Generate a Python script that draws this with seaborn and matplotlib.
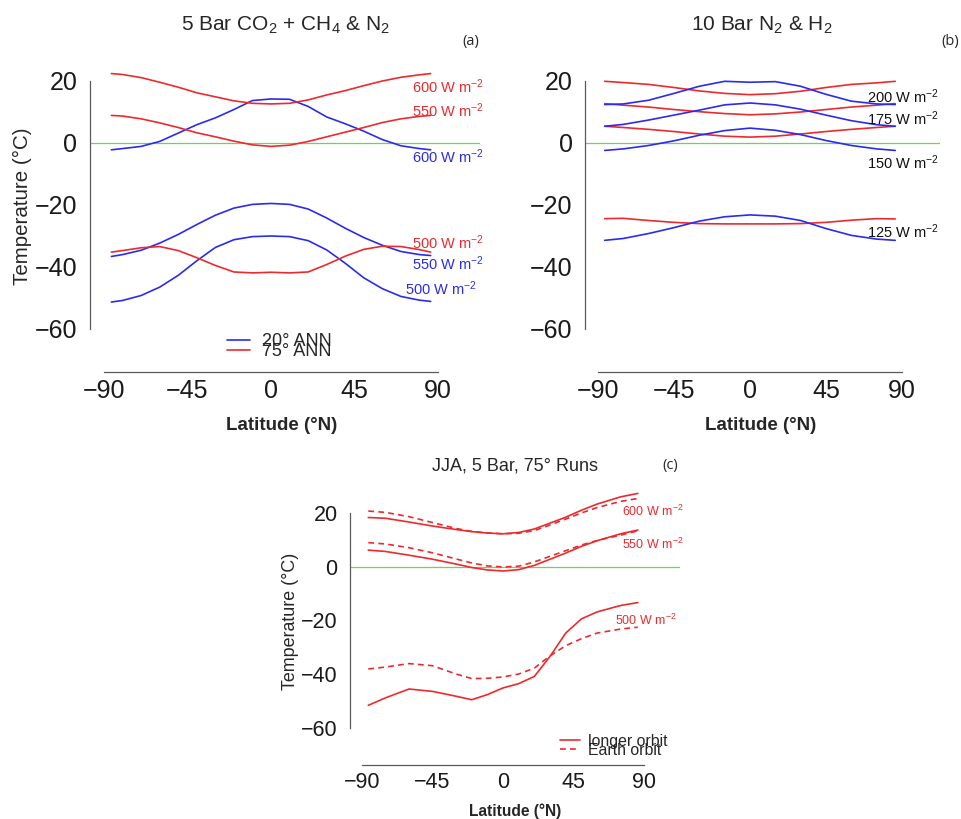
import matplotlib
matplotlib.use("Agg")
import matplotlib.pyplot as plt
import seaborn as sns
import pandas as pd

# latitudes (deg N) the curves were read at
lat_a = [-86, -80, -70, -60, -50, -40, -30, -20, -10, 0, 10, 20, 30, 40, 50, 60, 70, 80, 86]
lat_b = [-86, -75, -60, -45, -30, -15, 0, 15, 30, 45, 60, 75, 86]
lat_c = [-86, -75, -60, -45, -30, -20, -10, 0, 10, 20, 30, 40, 50, 60, 75, 86]

# (a) 5 bar CO2 + CH4 & N2, annual mean temperature (C)
a_20_600 = [-2.2, -1.8, -1.1, 0.5, 3.2, 5.9, 8.1, 10.8, 13.7, 14.2, 14.1, 11.8, 8.4, 6.2, 3.8, 1.1, -0.9, -1.8, -2.2]
a_20_550 = [-36.6, -36.0, -34.6, -32.3, -29.5, -26.3, -23.3, -21.0, -19.8, -19.5, -19.8, -21.3, -24.2, -27.5, -30.5, -33.0, -35.0, -36.0, -36.3]
a_20_500 = [-51.3, -50.8, -49.2, -46.5, -42.7, -38.0, -33.7, -31.2, -30.2, -30.0, -30.2, -31.5, -34.5, -38.8, -43.5, -47.0, -49.5, -50.7, -51.1]
a_75_600 = [22.4, 22.1, 21.1, 19.6, 18.0, 16.2, 14.9, 13.6, 12.8, 12.6, 12.8, 13.9, 15.5, 16.9, 18.5, 20.0, 21.2, 22.0, 22.4]
a_75_550 = [8.9, 8.7, 7.8, 6.5, 5.0, 3.3, 2.0, 0.6, -0.6, -1.1, -0.7, 0.5, 2.0, 3.5, 5.0, 6.6, 7.8, 8.6, 8.9]
a_75_500 = [-35.2, -34.7, -33.8, -33.4, -34.7, -37.0, -39.5, -41.6, -41.9, -41.7, -41.9, -41.6, -39.2, -36.5, -34.3, -33.3, -33.4, -34.4, -35.2]

# (b) 10 bar N2 & H2
b_20_200 = [12.4, 12.6, 13.8, 16.0, 18.3, 19.9, 19.6, 19.8, 18.3, 15.7, 13.5, 12.6, 12.4]
b_20_175 = [5.4, 6.0, 7.4, 9.0, 10.6, 12.3, 12.9, 12.3, 10.9, 9.0, 7.2, 5.9, 5.4]
b_20_150 = [-2.4, -1.9, -0.8, 0.7, 2.5, 4.0, 4.8, 4.1, 2.7, 0.8, -0.8, -1.9, -2.4]
b_20_125 = [-31.4, -30.8, -29.2, -27.3, -25.2, -23.8, -23.2, -23.6, -25.0, -27.6, -29.8, -31.0, -31.4]
b_75_200 = [19.9, 19.5, 18.9, 17.9, 16.8, 16.0, 15.6, 15.9, 16.7, 17.9, 18.9, 19.4, 19.9]
b_75_175 = [12.7, 12.2, 11.6, 10.8, 10.1, 9.5, 9.1, 9.4, 10.0, 10.8, 11.6, 12.2, 12.7]
b_75_150 = [5.4, 5.0, 4.4, 3.7, 2.9, 2.2, 1.9, 2.2, 2.9, 3.7, 4.4, 5.0, 5.4]
b_75_125 = [-24.4, -24.3, -25.0, -25.6, -26.0, -26.1, -26.1, -26.1, -26.0, -25.6, -24.9, -24.4, -24.5]

# (c) JJA, 5 bar, 75 deg obliquity
c_long_600 = [18.5, 18.2, 16.8, 15.3, 14.0, 13.2, 12.7, 12.4, 12.9, 14.2, 16.4, 18.6, 21.2, 23.5, 26.2, 27.5]
c_earth_600 = [20.9, 20.4, 18.8, 16.6, 14.4, 13.3, 12.7, 12.4, 12.6, 13.6, 15.7, 17.9, 20.2, 22.2, 24.5, 25.6]
c_long_550 = [6.3, 5.8, 4.4, 2.9, 1.1, -0.2, -1.1, -1.5, -1.0, 0.6, 2.9, 5.2, 7.7, 9.8, 12.4, 13.8]
c_earth_550 = [9.1, 8.6, 7.2, 5.3, 3.0, 1.5, 0.4, 0.0, 0.3, 1.9, 4.0, 6.1, 8.2, 9.9, 11.9, 13.5]
c_long_500 = [-51.7, -48.9, -45.6, -46.5, -48.3, -49.6, -47.7, -45.2, -43.6, -40.9, -33.4, -24.7, -19.4, -16.8, -14.4, -13.3]
c_earth_500 = [-38.1, -37.4, -36.1, -36.9, -40.0, -41.7, -41.6, -41.1, -40.0, -37.8, -33.2, -29.4, -26.8, -24.7, -23.2, -22.5]

xticks = [-90, -45, 0, 45, 90]
yticks = [-60, -40, -20, 0, 20]

RED = "#ec2a2e"
BLUE = "#2b2bee"
GREEN = "#6cd650"
AX_GREY = "#5a5a5a"

sns.set_style("white")
plt.rcParams["font.family"] = ["Liberation Sans", "DejaVu Sans"]
plt.rcParams["mathtext.fontset"] = "custom"
plt.rcParams["mathtext.rm"] = "Liberation Sans"
plt.rcParams["mathtext.it"] = "Liberation Sans:italic"
plt.rcParams["mathtext.bf"] = "Liberation Sans:bold"

W, H = 962, 819
fig = plt.figure(figsize=(W / 100, H / 100), dpi=100)


def box(left, right, top, bottom):
    return [left / W, 1 - bottom / H, (right - left) / W, (bottom - top) / H]


def px(x, y):
    return x / W, 1 - y / H


def style_axes(ax, tick_size):
    ax.set_xlim(-97.8, 112.8)
    ax.set_ylim(-74, 34)
    ax.set_xticks(xticks)
    ax.set_yticks(yticks)
    for s in ["top", "right"]:
        ax.spines[s].set_visible(False)
    for s in ["left", "bottom"]:
        ax.spines[s].set_color(AX_GREY)
        ax.spines[s].set_linewidth(0.9)
    ax.spines["left"].set_bounds(-60, 20)
    ax.spines["bottom"].set_bounds(-90, 90)
    ax.tick_params(axis="both", direction="out", length=4.3, width=0.8,
                   color=AX_GREY, labelsize=tick_size, labelcolor="#1a1a1a")
    ax.tick_params(axis="x", pad=0.5)
    ax.tick_params(axis="y", pad=4.5)
    ax.set_xlabel("")
    ax.set_ylabel("")
    ax.axhline(0, color=GREEN, lw=0.9, zorder=1)


def draw(ax, lat, vals, color, ls="-", label=None):
    df = pd.DataFrame({"lat": lat, "T": vals})
    sns.lineplot(data=df, x="lat", y="T", ax=ax, color=color, lw=1.2,
                 linestyle=ls, sort=False, label=label, legend=False)


# ---- panel (a)
ax_a = fig.add_axes(box(89.5, 480.4, 37.6, 372.4))
draw(ax_a, lat_a, a_20_600, BLUE, label="20° ANN")
draw(ax_a, lat_a, a_20_550, BLUE)
draw(ax_a, lat_a, a_20_500, BLUE)
draw(ax_a, lat_a, a_75_600, RED, label="75° ANN")
draw(ax_a, lat_a, a_75_550, RED)
draw(ax_a, lat_a, a_75_500, RED)
style_axes(ax_a, 18)
lab_a = [(75.9, 18.1, RED, "600"), (75.9, 10.3, RED, "550"), (75.9, -4.5, BLUE, "600"),
         (75.9, -32.3, RED, "500"), (75.9, -39.0, BLUE, "550"), (72.2, -47.1, BLUE, "500")]
for x, y, c, w in lab_a:
    ax_a.text(x, y, w + r" W m$^{-2}$", color=c, fontsize=10.5, ha="left", va="center")
h, l = ax_a.get_legend_handles_labels()
ax_a.legend(h, l, loc="upper left", bbox_to_anchor=px(227, 333), bbox_transform=fig.transFigure,
            frameon=False, fontsize=13, handlelength=1.27, handletextpad=0.67,
            labelspacing=-0.39, borderpad=0, borderaxespad=0)

# ---- panel (b)
ax_b = fig.add_axes(box(584.8, 940.5, 37.6, 372.4))
draw(ax_b, lat_b, b_75_200, RED)
draw(ax_b, lat_b, b_75_175, RED)
draw(ax_b, lat_b, b_75_150, RED)
draw(ax_b, lat_b, b_75_125, RED)
draw(ax_b, lat_b, b_20_200, BLUE)
draw(ax_b, lat_b, b_20_175, BLUE)
draw(ax_b, lat_b, b_20_150, BLUE)
draw(ax_b, lat_b, b_20_125, BLUE)
style_axes(ax_b, 18)
for y, w in [(14.9, "200"), (8.0, "175"), (-6.5, "150"), (-28.6, "125")]:
    ax_b.text(69.3, y, w + r" W m$^{-2}$", color="#111111", fontsize=10.5, ha="left", va="center")

# ---- panel (c)
ax_c = fig.add_axes(box(349.8, 679.8, 476, 765))
draw(ax_c, lat_c, c_long_600, RED, label="longer orbit")
draw(ax_c, lat_c, c_earth_600, RED, ls=(0, (3.5, 2.5)), label="Earth orbit")
draw(ax_c, lat_c, c_long_550, RED)
draw(ax_c, lat_c, c_earth_550, RED, ls=(0, (3.5, 2.5)))
draw(ax_c, lat_c, c_long_500, RED)
draw(ax_c, lat_c, c_earth_500, RED, ls=(0, (3.5, 2.5)))
style_axes(ax_c, 15.5)
for x, y, w in [(75.7, 20.7, "600"), (75.7, 8.5, "550"), (71.5, -19.8, "500")]:
    ax_c.text(x, y, w + r" W m$^{-2}$", color=RED, fontsize=9, ha="left", va="center")
h, l = ax_c.get_legend_handles_labels()
ax_c.legend(h, l, loc="upper left", bbox_to_anchor=px(560, 734), bbox_transform=fig.transFigure,
            frameon=False, fontsize=11.4, handlelength=1.27, handletextpad=0.5,
            labelspacing=-0.41, borderpad=0, borderaxespad=0)

# ---- titles, panel letters and axis labels
fig.text(*px(285, 25), r"5 Bar CO$_2$ + CH$_4$ & N$_2$", fontsize=15, ha="center", va="center")
fig.text(*px(762, 25), r"10 Bar N$_2$ & H$_2$", fontsize=15, ha="center", va="center")
fig.text(*px(515, 466), "JJA, 5 Bar, 75° Runs", fontsize=13, ha="center", va="center")
for x, y, t in [(471, 42, "(a)"), (950, 41, "(b)"), (670, 466, "(c)")]:
    fig.text(*px(x, y), t, fontsize=10.5, family="Open Sans", ha="center", va="center")

fig.text(*px(22, 206), "Temperature (°C)", fontsize=14.8, rotation=90, ha="center", va="center")
fig.text(*px(291, 621), "Temperature (°C)", fontsize=12.9, rotation=90, ha="center", va="center")
for x, y, s in [(282, 425, 13.5), (761, 425, 13.5), (515, 811, 11.2)]:
    fig.text(*px(x, y), "Latitude (°N)", fontsize=s, fontweight="bold", ha="center", va="center")

fig.savefig("out.png", dpi=100)
